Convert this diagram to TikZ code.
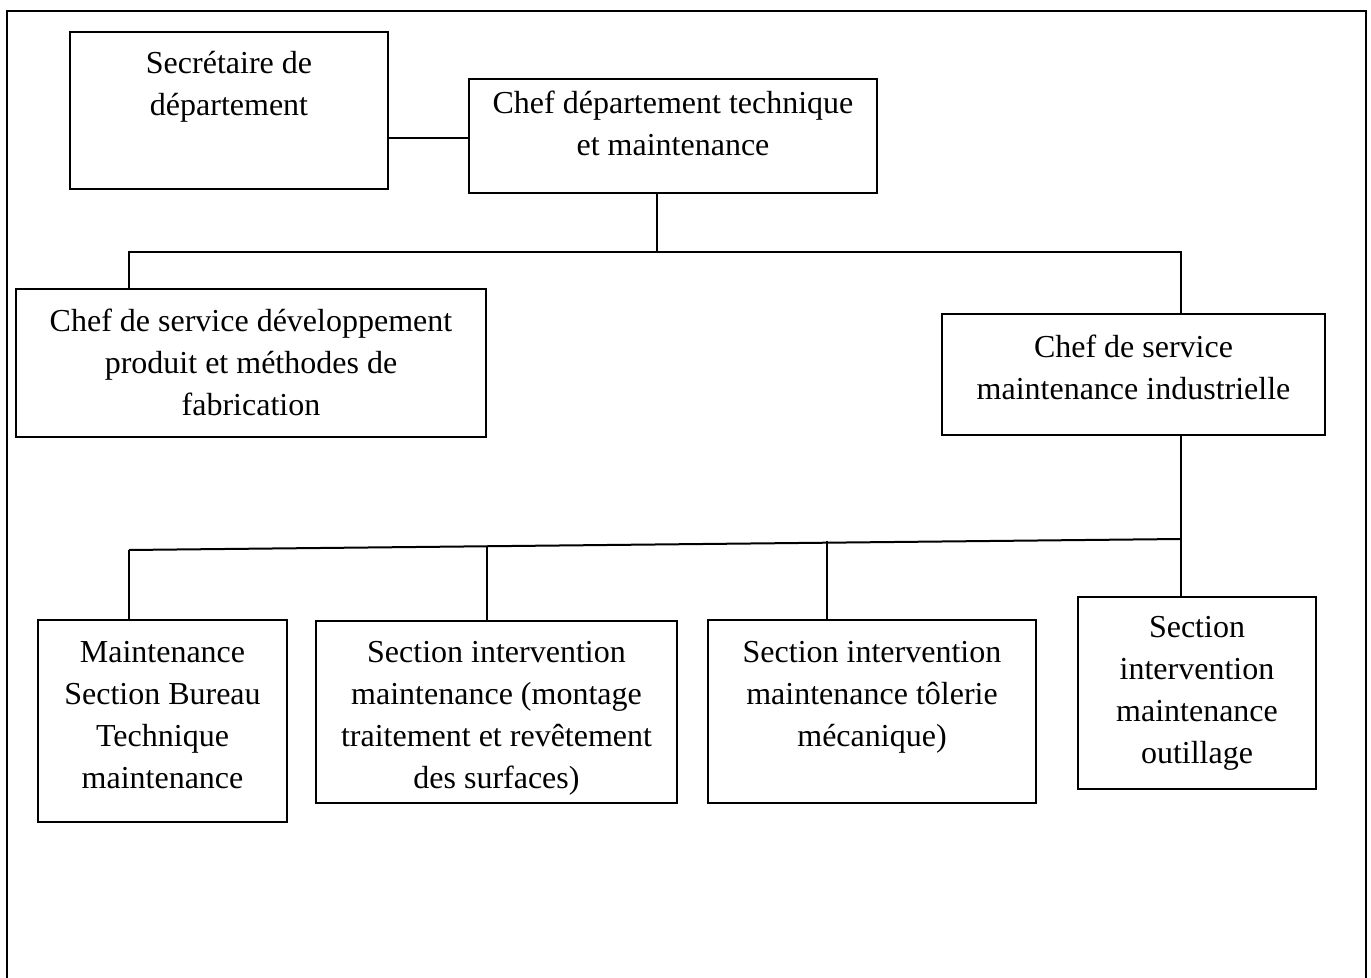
\documentclass[tikz,border=0pt]{standalone}
\usepackage{fontspec}
\setmainfont{Liberation Serif}
\usetikzlibrary{fit}
\newcommand\firstline{\strut}
\begin{document}
\begin{tikzpicture}[x=0.5pt,y=-0.5pt,
  box/.style={draw, line width=1pt, inner sep=0pt},
  lbl/.style={anchor=north, inner sep=0pt, align=center,
    font=\fontsize{16}{21}\selectfont},
  conn/.style={line width=1pt},
  frame/.style={line width=1.3pt}]
\useasboundingbox (0,0) rectangle (1371,978);
% open outer frame
\draw[frame] (7,978) -- (7,11) -- (1366,11) -- (1366,978);

% top level
\node[box, fit={(70,32) (388,189)}] (sec) {};
\node[lbl] (sec-t) at (229,44) {\firstline Secrétaire de\\département};
\node[box, fit={(469,79) (877,193)}] (chef) {};
\node[lbl] (chef-t) at (673,83.6) {\firstline Chef département technique\\et maintenance};

% services
\node[box, fit={(16,289) (486,437)}] (dev) {};
\node[lbl] (dev-t) at (251,302) {\firstline Chef de service développement\\produit et méthodes de\\fabrication};
\node[box, fit={(942,314) (1325,435)}] (mi) {};
\node[lbl] (mi-t) at (1133.5,328) {\firstline Chef de service\\maintenance industrielle};

% sections
\node[box, fit={(38,620) (287,822)}] (bt) {};
\node[lbl] (bt-t) at (162.5,633) {\firstline Maintenance\\Section Bureau\\Technique\\maintenance};
\node[box, fit={(316,621) (677,803)}] (st) {};
\node[lbl] (st-t) at (496.5,633) {\firstline Section intervention\\maintenance (montage\\traitement et revêtement\\des surfaces)};
\node[box, fit={(708,620) (1036,803)}] (tm) {};
\node[lbl] (tm-t) at (872,633) {\firstline Section intervention\\maintenance tôlerie\\mécanique)};
\node[box, fit={(1078,597) (1316,789)}] (ou) {};
\node[lbl] (ou-t) at (1197,607.6) {\firstline Section\\intervention\\maintenance\\outillage};

% connectors
\draw[conn] (sec.east |- 0,138) -- (chef.west |- 0,138);
\coordinate (j1) at (657,252);
\coordinate (jL) at (129,252);
\coordinate (jR) at (1181,252);
\draw[conn] (j1 |- chef.south) -- (j1);
\draw[conn] (jL |- dev.north) -- (jL) -- (jR) -- (jR |- mi.north);

\coordinate (bL) at (129,550);
\coordinate (bR) at (1181,539);
\coordinate (b2) at (487,546.3);
\coordinate (b3) at (827,541);
\draw[conn] (bR |- mi.south) -- (bR) -- (bR |- ou.north);
\draw[conn] (bL) -- (bR);
\draw[conn] (bL) -- (bL |- bt.north);
\draw[conn] (b2) -- (b2 |- st.north);
\draw[conn] (b3) -- (b3 |- tm.north);
\end{tikzpicture}
\end{document}
